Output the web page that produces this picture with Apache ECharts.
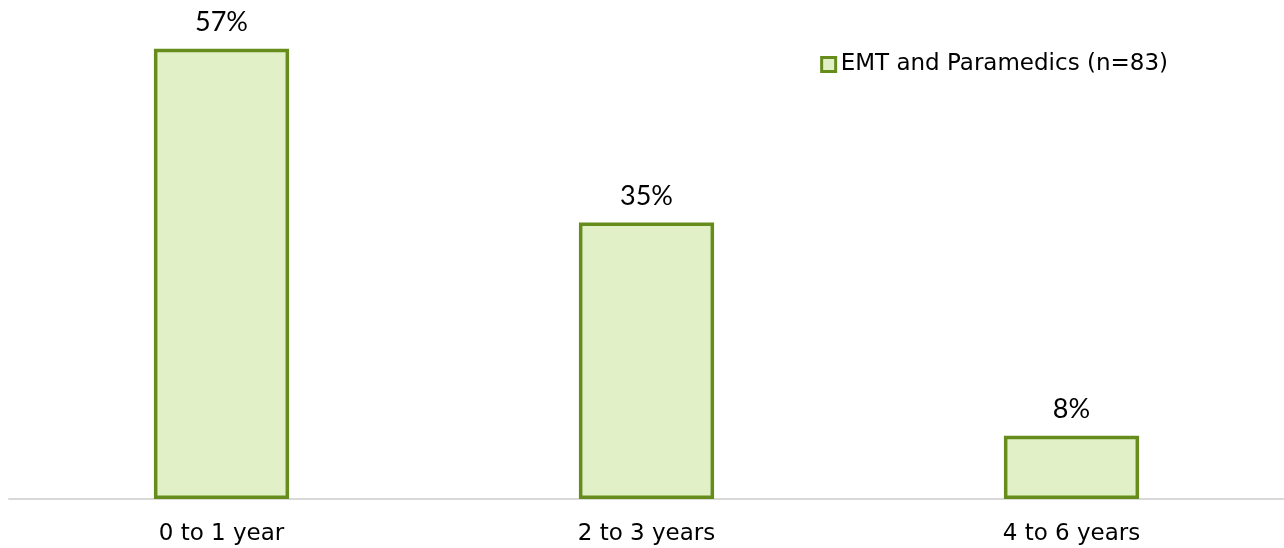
<!DOCTYPE html>
<html><head><meta charset="utf-8">
<script src="https://cdn.jsdelivr.net/npm/echarts@6/dist/echarts.min.js"></script>
<style>html,body{margin:0;padding:0;background:#fff}#c{width:1284px;height:548px}</style>
</head><body><div id="c"></div>
<script>
const categories = ['0 to 1 year', '2 to 3 years', '4 to 6 years'];
const values = [57, 35, 8];
const seriesName = 'EMT and Paramedics (n=83)';

const chart = echarts.init(document.getElementById('c'), null, {renderer: 'canvas'});
chart.setOption({
  animation: false,
  backgroundColor: '#ffffff',
  legend: {
    data: [seriesName],
    right: 111, top: 48,
    itemWidth: 14, itemHeight: 14, itemGap: 4,
    icon: 'rect',
    itemStyle: {borderWidth: 3},
    textStyle: {fontFamily: 'DejaVu Sans', fontSize: 23, color: '#000'}
  },
  grid: {left: 9, right: 0, top: 25, bottom: 49, containLabel: false},
  xAxis: {
    type: 'category', data: categories,
    axisLine: {lineStyle: {color: '#d9d9d9', width: 2}},
    axisTick: {show: false},
    axisLabel: {margin: 24, fontFamily: 'DejaVu Sans', fontSize: 23, color: '#000'}
  },
  yAxis: {type: 'value', min: 0, max: 60, show: false, splitLine: {show: false}},
  series: [{
    name: seriesName, type: 'bar', data: values, barWidth: '31.8%',
    itemStyle: {color: '#e2f0c8', borderColor: '#668c1c', borderWidth: 3.5},
    label: {show: true, position: 'top', distance: 13, formatter: '{c}%',
      fontFamily: 'Lato', fontSize: 27, color: '#000'}
  }]
});
</script></body></html>
